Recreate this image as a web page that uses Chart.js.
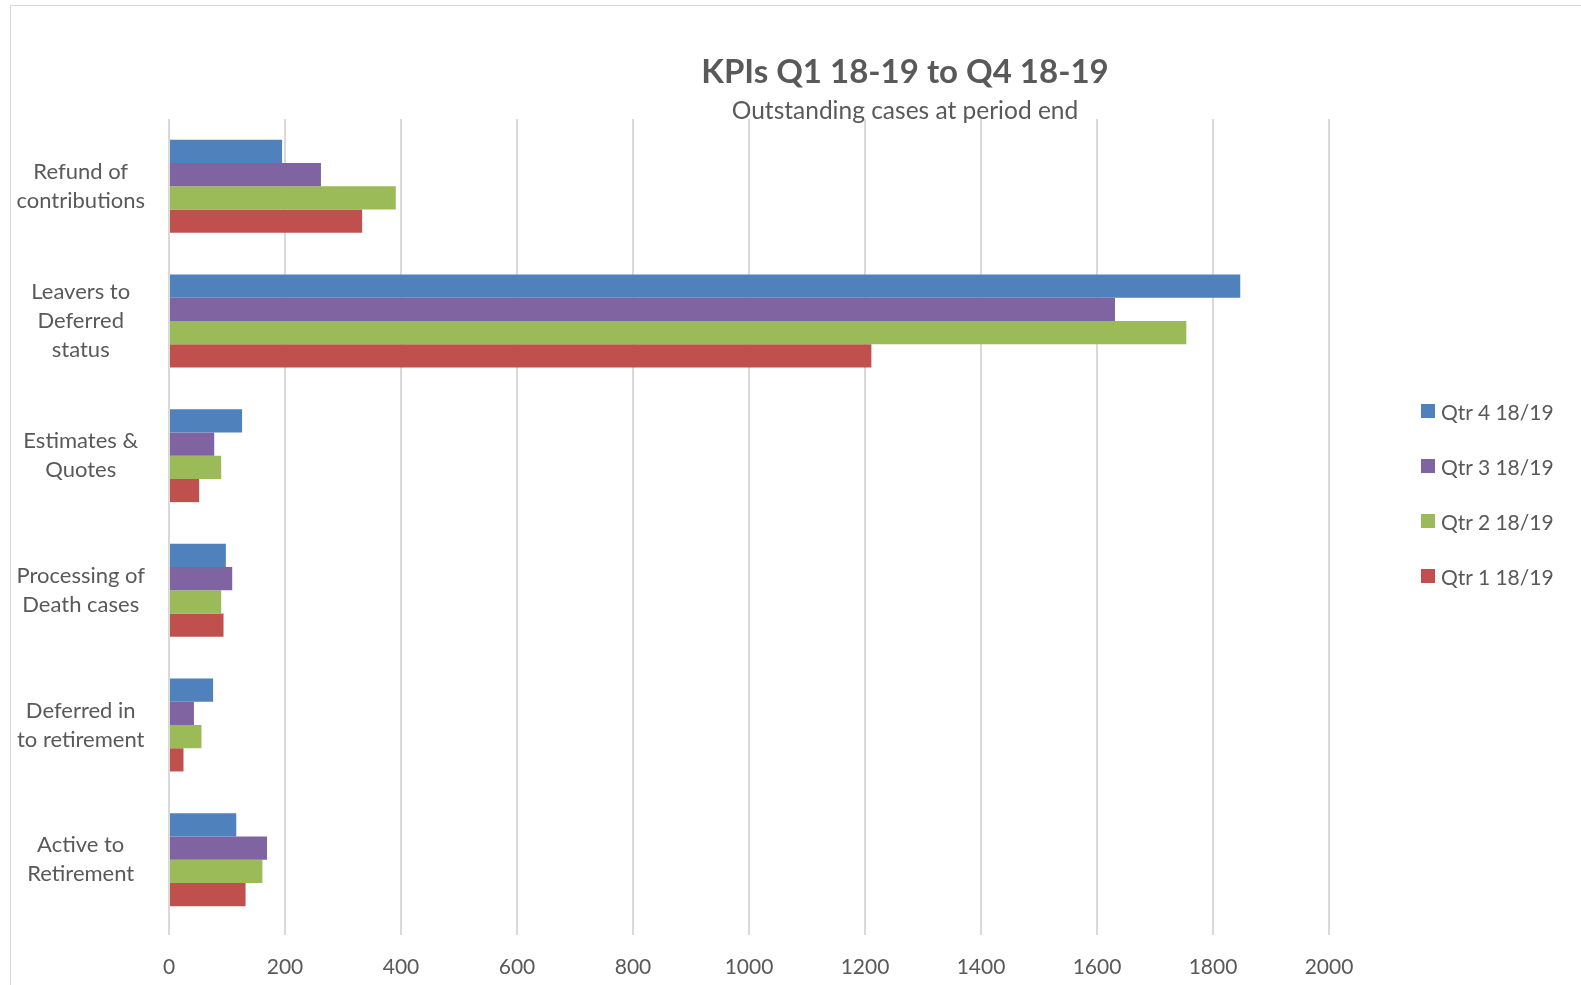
<!DOCTYPE html>
<html>
<head>
<meta charset="utf-8">
<script src="https://cdn.jsdelivr.net/npm/chart.js@4.4.1/dist/chart.umd.min.js"></script>
<style>
  html, body { margin: 0; padding: 0; background: #fff; overflow: hidden; }
  #wrap { position: relative; width: 1581px; height: 985px; }
  #frame { position: absolute; left: 10px; top: 5px; width: 1600px; height: 1000px; border: 1px solid #d9d9d9; box-sizing: border-box; }
  #c { position: absolute; left: 0; top: 0; }
  .ttl { position: absolute; left: 905px; transform: translateX(-50%); white-space: nowrap; color: #595959; font-family: Lato, "Open Sans", sans-serif; }
  #title { top: 50px; font-size: 33px; font-weight: bold; }
  #subtitle { top: 95px; font-size: 24.5px; }
  #legend { position: absolute; left: 1421px; top: 397px; font-family: Lato, "Open Sans", sans-serif; font-size: 21px; color: #595959; }
  .li { display: flex; align-items: center; height: 28px; margin-bottom: 27px; white-space: nowrap; }
  .sw { width: 14px; height: 14px; margin-right: 6px; }
</style>
</head>
<body>
<div id="wrap">
  <div id="frame"></div>
  <canvas id="c" width="1581" height="985"></canvas>
  <div id="title" class="ttl"></div>
  <div id="subtitle" class="ttl"></div>
  <div id="legend"></div>
</div>
<script>
const chartTitle = "KPIs Q1 18-19 to Q4 18-19";
const chartSubtitle = "Outstanding cases at period end";
const categories = [
  ["Refund of", "contributions"],
  ["Leavers to", "Deferred", "status"],
  ["Estimates &", "Quotes"],
  ["Processing of", "Death cases"],
  ["Deferred in", "to retirement"],
  ["Active to", "Retirement"]
];
const seriesNames = ["Qtr 4 18/19", "Qtr 3 18/19", "Qtr 2 18/19", "Qtr 1 18/19"];
const qtr4 = [195, 1847, 126, 98, 76, 116];
const qtr3 = [262, 1631, 78, 109, 43, 169];
const qtr2 = [391, 1754, 90, 90, 56, 161];
const qtr1 = [333, 1211, 52, 94, 25, 132];
const seriesColors = ["#4F81BD", "#8064A2", "#9BBB59", "#C0504D"];
const xTicks = [0, 200, 400, 600, 800, 1000, 1200, 1400, 1600, 1800, 2000];

const seriesValues = [qtr4, qtr3, qtr2, qtr1];

document.getElementById('title').textContent = chartTitle;
document.getElementById('subtitle').textContent = chartSubtitle;
const leg = document.getElementById('legend');
seriesNames.forEach((n, i) => {
  const d = document.createElement('div'); d.className = 'li';
  const s = document.createElement('div'); s.className = 'sw'; s.style.background = seriesColors[i];
  const t = document.createElement('span'); t.textContent = n;
  d.appendChild(s); d.appendChild(t); leg.appendChild(d);
});

const textColor = '#595959';
const fontFam = 'Lato, "Open Sans", sans-serif';

new Chart(document.getElementById('c'), {
  type: 'bar',
  data: {
    labels: categories,
    datasets: seriesNames.map((n, i) => ({
      label: n,
      data: seriesValues[i],
      backgroundColor: seriesColors[i],
      borderWidth: 0,
      categoryPercentage: 0.69,
      barPercentage: 1.0
    }))
  },
  options: {
    indexAxis: 'y',
    responsive: false,
    animation: false,
    layout: { padding: { left: 10, right: 252, top: 119, bottom: 0 } },
    plugins: { legend: { display: false }, title: { display: false }, tooltip: { enabled: false } },
    scales: {
      x: {
        min: 0, max: 2000,
        afterBuildTicks: (s) => { s.ticks = xTicks.map(v => ({ value: v })); },
        afterFit: (s) => { s.height = 58; },
        grid: { color: '#d9d9d9', lineWidth: 2, tickLength: 8, drawTicks: true },
        border: { display: false },
        ticks: { color: textColor, font: { family: fontFam, size: 21 }, padding: 20, maxRotation: 0,
                 callback: (v) => String(v) }
      },
      y: {
        afterFit: (s) => { s.width = 159; },
        grid: { display: false },
        border: { display: false },
        ticks: { color: textColor, font: { family: fontFam, size: 22, lineHeight: 1.32 }, crossAlign: 'center', padding: 16 }
      }
    }
  }
});
</script>
</body>
</html>
